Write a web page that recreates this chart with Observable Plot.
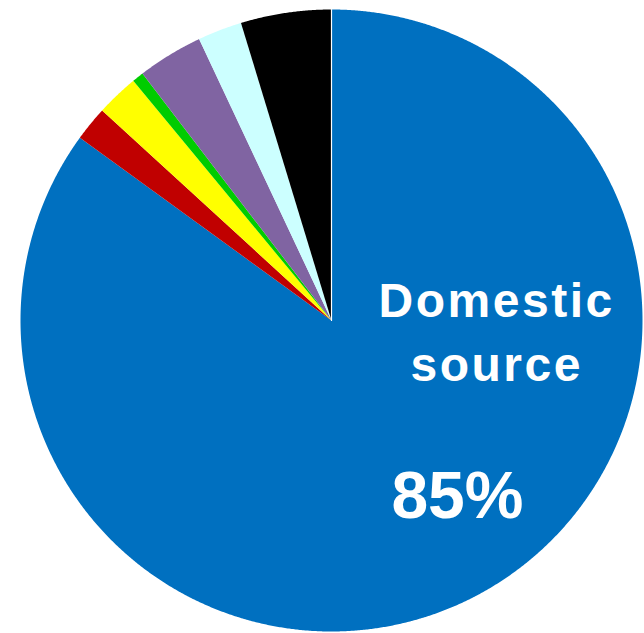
<!DOCTYPE html>
<html>
<head>
<meta charset="utf-8">
<script src="https://cdn.jsdelivr.net/npm/d3@7"></script>
<script src="https://cdn.jsdelivr.net/npm/@observablehq/plot@0.6"></script>
<style>
  html, body { margin: 0; padding: 0; background: #ffffff; }
  #chart svg { display: block; }
  #chart g[aria-label="text"] text { letter-spacing: 2.5px; }
  #chart g[aria-label="text"].big text { letter-spacing: 0px; }
</style>
</head>
<body>
<div id="chart"></div>
<script>
// Data (percent shares, clockwise from 12 o'clock)
const categories = ["Domestic source", "Source B", "Source C", "Source D", "Source E", "Source F", "Source G"];
const values = [85, 1.8, 2.2, 0.6, 3.4, 2.3, 4.7];
const colors = ["#0070C0", "#C00000", "#FFFF00", "#00CC00", "#8064A2", "#CCFFFF", "#000000"];

const rows = categories.map((name, i) => ({name, value: values[i]}));
const arcs = d3.pie().sort(null).value(d => d.value)(rows);

// Geometry helper: turn a pie angle into planar coordinates (y down)
const pt = a => [Math.sin(a), -Math.cos(a)];
function slicePolygon(a0, a1) {
  const ring = [[0, 0]];
  const n = Math.max(2, Math.ceil((a1 - a0) / (Math.PI / 720)));
  for (let k = 0; k <= n; k++) ring.push(pt(a0 + (a1 - a0) * k / n));
  ring.push([0, 0]);
  return {type: "Polygon", coordinates: [ring]};
}
const features = arcs.map(a => ({
  type: "Feature",
  properties: {name: a.data.name},
  geometry: slicePolygon(a.startAngle, a.endAngle)
}));
const seam = {type: "LineString", coordinates: [[0, 0], pt(arcs[0].startAngle)]};

const mainLabel = [{text: categories[0].replace(" ", "\n")}];
const pctLabel = [{text: `${values[0]}%`}];

const plot = Plot.plot({
  width: 644,
  height: 633,
  marginLeft: 20,
  marginRight: 2,
  marginTop: 9,
  marginBottom: 2,
  style: {background: "#ffffff", fontFamily: "'Liberation Sans', Arial, sans-serif"},
  projection: {type: "identity", domain: {type: "MultiPoint", coordinates: [[-1, -1], [1, 1]]}},
  color: {domain: categories, range: colors},
  marks: [
    Plot.geo(features, {fill: d => d.properties.name}),
    Plot.geo([seam], {stroke: "#ffffff", strokeWidth: 1.2}),
    Plot.text(mainLabel, {
      x: () => 0.531, y: () => 0.195, text: "text",
      fill: "#ffffff", fontSize: 48, fontWeight: "bold",
      textAnchor: "middle", lineAnchor: "bottom", lineHeight: 1.34
    }),
    Plot.text(pctLabel, {
      x: () => 0.405, y: () => 0.634, text: "text",
      fill: "#ffffff", fontSize: 66, fontWeight: "bold",
      textAnchor: "middle", lineAnchor: "bottom", className: "big"
    })
  ]
});
document.getElementById("chart").appendChild(plot);
</script>
</body>
</html>
